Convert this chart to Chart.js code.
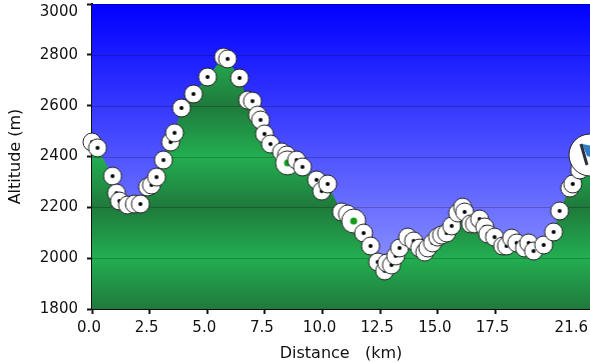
<!DOCTYPE html>
<html>
<head>
<meta charset="utf-8">
<title>Altitude profile</title>
<script src="https://cdn.jsdelivr.net/npm/chart.js@4"></script>
<style>
  html, body { margin: 0; padding: 0; background: #fff; }
  #wrap { width: 590px; height: 363px; }
</style>
</head>
<body>
<div id="wrap"><canvas id="profileChart"></canvas></div>
<script>
const distanceKm = [0, 0.24, 0.89, 1.06, 1.19, 1.54, 1.84, 2.1, 2.41, 2.58, 2.8, 3.1, 3.41, 3.58, 3.88, 4.4, 5.01, 5.7, 5.88, 6.4, 6.75, 6.96, 7.18, 7.31, 7.48, 7.74, 8.22, 8.44, 8.48, 8.87, 9.13, 9.74, 9.96, 10.22, 10.82, 11.08, 11.35, 11.78, 12.08, 12.39, 12.69, 12.78, 12.99, 13.17, 13.34, 13.69, 13.95, 14.21, 14.43, 14.56, 14.77, 14.99, 15.16, 15.38, 15.6, 15.86, 16.07, 16.16, 16.42, 16.59, 16.81, 17.03, 17.16, 17.46, 17.81, 17.98, 18.2, 18.42, 18.76, 18.94, 19.15, 19.59, 20.02, 20.28, 20.72, 20.85, 21.15, 21.6];
const altitudeM = [2457, 2434, 2323, 2256, 2225, 2209, 2213, 2213, 2280, 2288, 2319, 2386, 2457, 2493, 2591, 2646, 2713, 2791, 2784, 2709, 2622, 2618, 2563, 2544, 2489, 2449, 2418, 2406, 2375, 2386, 2359, 2308, 2264, 2292, 2182, 2174, 2146, 2099, 2048, 1985, 1950, 1981, 1973, 2009, 2040, 2083, 2068, 2040, 2024, 2040, 2060, 2083, 2091, 2099, 2127, 2178, 2201, 2182, 2135, 2135, 2154, 2123, 2095, 2083, 2048, 2048, 2079, 2060, 2040, 2060, 2028, 2052, 2103, 2186, 2276, 2292, 2347, 2406];
const bigWaypointsKm = [8.48, 11.35];
const finishKm = 21.6;
const xTicks = [0, 2.5, 5, 7.5, 10, 12.5, 15, 17.5, 21.6];
const xTickLabels = ['0.0', '2.5', '5.0', '7.5', '10.0', '12.5', '15.0', '17.5', '21.6'];
const yTicks = [1800, 2000, 2200, 2400, 2600, 2800, 3000];

const FONT = 'DejaVu Sans, Verdana, sans-serif';
const INK = '#111';

function makeSprite(radius, paint) {
    const size = radius * 2 + 4;
    const c = document.createElement('canvas');
    c.width = size;
    c.height = size;
    const g = c.getContext('2d');
    g.beginPath();
    g.arc(size / 2, size / 2, radius, 0, Math.PI * 2);
    g.fillStyle = '#fff';
    g.fill();
    g.lineWidth = 1;
    g.strokeStyle = '#222';
    g.stroke();
    paint(g, size / 2);
    return c;
}

function dot(g, c, r, color) {
    g.beginPath();
    g.arc(c, c, r, 0, Math.PI * 2);
    g.fillStyle = color;
    g.fill();
}

const smallMarker = makeSprite(9, (g, c) => dot(g, c, 2, '#000'));
const bigMarker = makeSprite(12, (g, c) => dot(g, c, 3.5, '#159a1e'));
const flagMarker = makeSprite(21, (g, c) => {
    g.beginPath();
    g.moveTo(c - 8, c - 11);
    g.lineTo(c + 14, c - 7);
    g.lineTo(c + 14, c + 6);
    g.lineTo(c - 3, c + 1);
    g.closePath();
    g.fillStyle = '#2f7fc8';
    g.fill();
    g.beginPath();
    g.moveTo(c - 9, c - 11);
    g.lineTo(c - 3, c + 10);
    g.lineWidth = 3;
    g.strokeStyle = '#2c3340';
    g.stroke();
});

function markerFor(ctx) {
    const km = distanceKm[ctx.dataIndex];
    if (km === finishKm) return flagMarker;
    if (bigWaypointsKm.includes(km)) return bigMarker;
    return smallMarker;
}

// green bands: dark on the even gridlines, bright on the ones between
function groundGradient(ctx) {
    const chart = ctx.chart;
    const area = chart.chartArea;
    if (!area) return '#1f8f47';
    const y = chart.scales.y;
    const grad = chart.ctx.createLinearGradient(0, area.top, 0, area.bottom);
    yTicks.forEach((v, i) => {
        const stop = (y.getPixelForValue(v) - area.top) / (area.bottom - area.top);
        grad.addColorStop(Math.min(1, Math.max(0, stop)), i % 2 === 0 ? '#1f7a3c' : '#23ae50');
    });
    return grad;
}

const skyPlugin = {
    id: 'sky',
    beforeDatasetsDraw(chart) {
        const { ctx, chartArea: a } = chart;
        const grad = ctx.createLinearGradient(0, a.top, 0, a.bottom);
        grad.addColorStop(0, '#0000ff');
        grad.addColorStop(1, '#a0a8ff');
        ctx.fillStyle = grad;
        ctx.fillRect(a.left, a.top, a.right - a.left, a.bottom - a.top);
    },
    // gridlines go over the ground but under the waypoints
    afterDatasetDraw(chart, args) {
        if (args.index !== 0) return;
        const { ctx, chartArea: a } = chart;
        ctx.save();
        ctx.strokeStyle = 'rgba(0,0,0,0.22)';
        ctx.lineWidth = 1;
        yTicks.forEach(v => {
            const py = Math.round(chart.scales.y.getPixelForValue(v)) + 0.5;
            ctx.beginPath();
            ctx.moveTo(a.left, py);
            ctx.lineTo(a.right, py);
            ctx.stroke();
        });
        ctx.restore();
    },
    // the source nudges its labels: x ones sit a bit left, edge ones are pulled inside
    beforeDraw(chart) {
        const xItems = chart.scales.x.getLabelItems();
        xItems.forEach((item, i) => {
            item.options.translation[0] -= 3;
            if (i === xItems.length - 1) {
                item.options.textAlign = 'right';
                item.options.translation[0] += 1;
            }
        });
        const yItems = chart.scales.y.getLabelItems();
        yItems[yItems.length - 1].options.translation[1] += 8;
    }
};

new Chart(document.getElementById('profileChart'), {
    type: 'line',
    data: {
        labels: distanceKm,
        datasets: [
            {
                label: 'Ground',
                data: distanceKm.map((km, i) => ({ x: km, y: altitudeM[i] })),
                fill: 'start',
                backgroundColor: groundGradient,
                borderWidth: 0,
                pointRadius: 0,
                tension: 0,
                order: 2
            },
            {
                label: 'Waypoints',
                data: distanceKm.map((km, i) => ({ x: km, y: altitudeM[i] })),
                showLine: false,
                pointStyle: markerFor,
                pointRadius: 9,
                clip: false,
                order: 1
            }
        ]
    },
    options: {
        responsive: true,
        maintainAspectRatio: false,
        animation: false,
        layout: { autoPadding: false, padding: { top: 4, right: 0, left: 0, bottom: 0 } },
        plugins: {
            legend: { display: false },
            tooltip: { enabled: false }
        },
        scales: {
            x: {
                type: 'linear',
                min: 0,
                max: finishKm,
                afterBuildTicks: scale => { scale.ticks = xTicks.map(v => ({ value: v })); },
                afterFit: scale => {
                    scale.height = 54;
                    scale.paddingLeft = 0;
                    scale.paddingRight = 0;
                },
                ticks: {
                    autoSkip: false,
                    maxRotation: 0,
                    padding: 5,
                    color: INK,
                    font: { family: FONT, size: 15 },
                    callback: (v, i) => xTickLabels[i]
                },
                grid: {
                    drawOnChartArea: false,
                    tickLength: 5,
                    tickWidth: 2,
                    tickColor: ctx => (ctx.index === xTicks.length - 1 ? 'transparent' : INK)
                },
                border: { color: INK, width: 2 },
                title: {
                    display: true,
                    text: 'Distance   (km)',
                    color: INK,
                    font: { family: FONT, size: 16 },
                    padding: { top: 0, bottom: 0 }
                }
            },
            y: {
                type: 'linear',
                min: 1800,
                max: 3000,
                afterBuildTicks: scale => { scale.ticks = yTicks.map(v => ({ value: v })); },
                afterFit: scale => {
                    scale.width = 92;
                    scale.paddingTop = 0;
                    scale.paddingBottom = 0;
                },
                ticks: {
                    autoSkip: false,
                    padding: 9,
                    color: INK,
                    font: { family: FONT, size: 15 },
                    callback: v => String(v)
                },
                grid: {
                    drawOnChartArea: false,
                    tickLength: 5,
                    tickWidth: 2,
                    tickColor: INK
                },
                border: { color: INK, width: 2 },
                title: {
                    display: true,
                    text: 'Altitude (m)',
                    color: INK,
                    font: { family: FONT, size: 16 },
                    padding: { top: 6, bottom: 0 }
                }
            }
        }
    },
    plugins: [skyPlugin]
});
</script>
</body>
</html>
